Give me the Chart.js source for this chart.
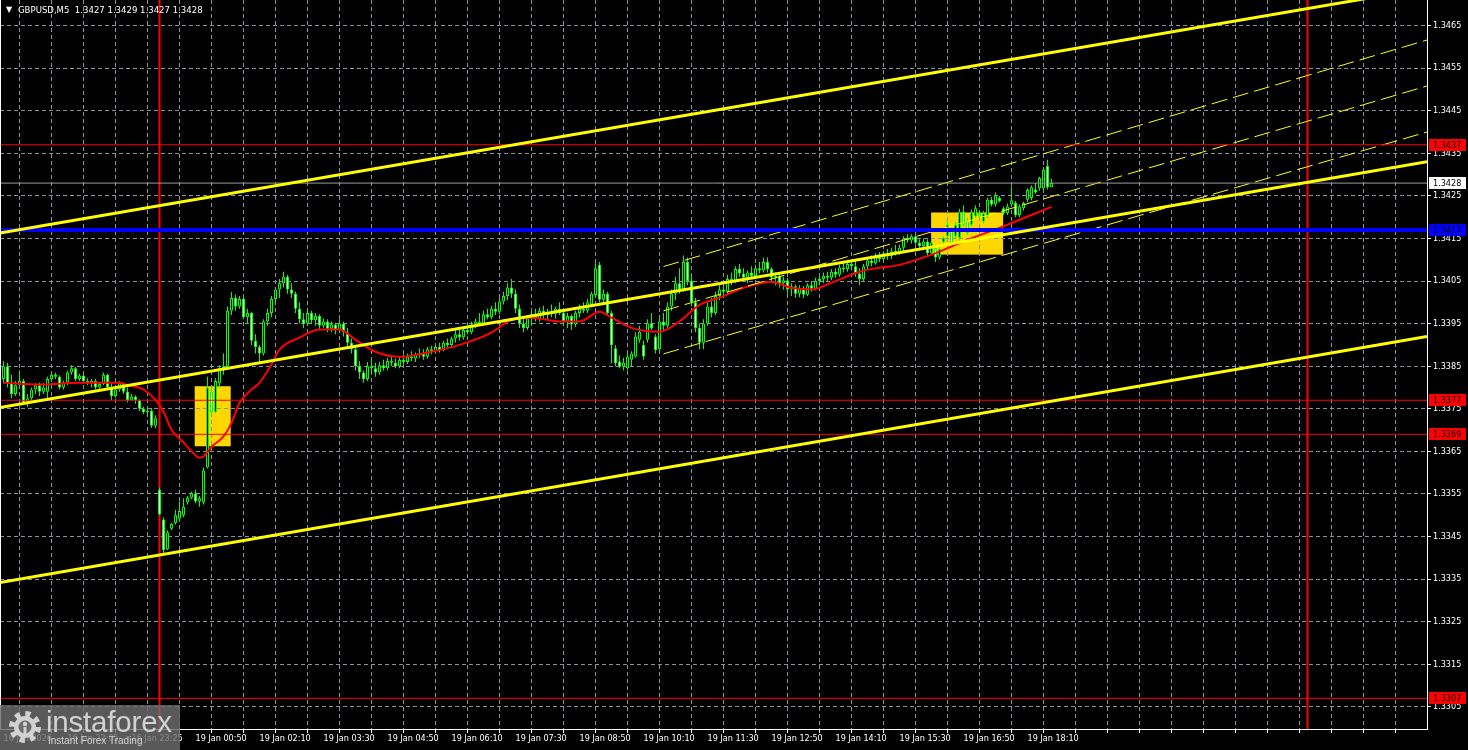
<!DOCTYPE html>
<html><head><meta charset="utf-8">
<script src="https://cdn.jsdelivr.net/npm/chart.js"></script>
<style>
html,body{margin:0;padding:0;background:#000;overflow:hidden}
#wrap{position:relative;width:1468px;height:750px;background:#000}
canvas{display:block}
#tri{position:absolute;left:6px;top:4px;color:#fff;font:8px "DejaVu Sans",sans-serif;line-height:12px}
#title{position:absolute;left:18px;top:4px;color:#fff;font:9.5px "DejaVu Sans Condensed","Liberation Sans",Arial,sans-serif;line-height:12px;white-space:pre}
#logo{position:absolute;left:0;top:705px;width:180px;height:45px;background:rgba(108,108,108,0.82);overflow:hidden}
#logo svg{position:absolute;left:7px;top:4px}
#logo .big{position:absolute;left:46px;top:2px;font:29.5px/29px "Liberation Sans",Arial,sans-serif;color:#d2d2d2;letter-spacing:-0.2px}
#logo .small{position:absolute;left:48px;top:31px;font:10px/10px "Liberation Sans",Arial,sans-serif;color:#d2d2d2}
</style></head><body>
<div id="wrap">
<canvas id="c" width="1468" height="750"></canvas>
<div id="tri">▼</div>
<div id="title">GBPUSD,M5  1.3427 1.3429 1.3427 1.3428</div>
<div id="logo">
<svg width="36" height="36" viewBox="0 0 36 36"><circle cx="18" cy="18" r="13" fill="none" stroke="#d2d2d2" stroke-width="6" stroke-dasharray="5 5.2"/><circle cx="18" cy="18" r="11" fill="#d2d2d2"/><circle cx="18" cy="18" r="6.5" fill="#6c6c6c"/><circle cx="18" cy="15" r="2.2" fill="#d2d2d2"/><rect x="16.5" y="18" width="3" height="10" fill="#d2d2d2"/></svg>
<div class="big">instaforex</div>
<div class="small">Instant Forex Trading</div>
</div>
</div>
<script>
// ---- candle data (GBPUSD M5), bar 0 = 16 Jan 20:45, bar 39 = 19 Jan 00:00 ----
const opens = [
1.33820,1.33850,1.33810,1.33785,1.33805,1.33815,1.33765,1.33775,1.33795,1.33805,
1.33790,1.33790,1.33820,1.33830,1.33825,1.33800,1.33812,1.33835,1.33845,1.33820,
1.33828,1.33815,1.33810,1.33815,1.33800,1.33808,1.33830,1.33800,1.33780,1.33795,
1.33810,1.33790,1.33770,1.33778,1.33770,1.33750,1.33742,1.33745,1.33710,1.33560,
1.33490,1.33420,1.33468,1.33482,1.33492,1.33500,1.33530,1.33541,1.33551,1.33532,
1.33530,1.33612,1.33790,1.33742,1.33810,1.33845,1.33850,1.33980,1.34010,1.33990,
1.34008,1.33965,1.33975,1.33910,1.33895,1.33880,1.33955,1.33975,1.34008,1.34030,
1.34045,1.34060,1.34030,1.34020,1.33985,1.33960,1.33950,1.33975,1.33958,1.33968,
1.33945,1.33955,1.33938,1.33948,1.33935,1.33950,1.33930,1.33905,1.33890,1.33850,
1.33835,1.33820,1.33850,1.33845,1.33835,1.33852,1.33845,1.33862,1.33858,1.33850,
1.33865,1.33860,1.33872,1.33868,1.33878,1.33880,1.33872,1.33890,1.33885,1.33895,
1.33888,1.33905,1.33900,1.33915,1.33925,1.33918,1.33935,1.33930,1.33948,1.33955,
1.33950,1.33972,1.33965,1.33985,1.33978,1.34002,1.34015,1.34035,1.34020,1.33985,
1.33950,1.33940,1.33962,1.33972,1.33960,1.33980,1.33970,1.33978,1.33972,1.33985,
1.33975,1.33955,1.33968,1.33948,1.33975,1.33985,1.33980,1.33995,1.34017,1.34088,
1.34006,1.34020,1.33975,1.33892,1.33861,1.33849,1.33845,1.33865,1.33873,1.33912,
1.33900,1.33912,1.33951,1.33920,1.33890,1.33955,1.33945,1.33990,1.34020,1.34045,
1.34030,1.34095,1.34050,1.34000,1.33940,1.33905,1.33950,1.33990,1.33975,1.34015,
1.34030,1.34025,1.34055,1.34048,1.34078,1.34068,1.34058,1.34070,1.34062,1.34080,
1.34075,1.34095,1.34078,1.34058,1.34062,1.34045,1.34052,1.34030,1.34038,1.34020,
1.34032,1.34018,1.34040,1.34032,1.34050,1.34055,1.34062,1.34058,1.34072,1.34065,
1.34082,1.34078,1.34090,1.34085,1.34068,1.34055,1.34085,1.34098,1.34092,1.34108,
1.34102,1.34115,1.34108,1.34120,1.34118,1.34128,1.34150,1.34145,1.34155,1.34140,
1.34132,1.34143,1.34115,1.34127,1.34105,1.34141,1.34155,1.34170,1.34155,1.34151,
1.34213,1.34190,1.34182,1.34202,1.34210,1.34190,1.34202,1.34241,1.34230,1.34245,
1.34221,1.34209,1.34230,1.34233,1.34205,1.34221,1.34241,1.34245,1.34265,1.34268,
1.34268,1.34320,1.34270];
const highs = [
1.33862,1.33858,1.33830,1.33815,1.33840,1.33820,1.33785,1.33800,1.33810,1.33812,
1.33810,1.33825,1.33835,1.33835,1.33828,1.33815,1.33840,1.33852,1.33848,1.33832,
1.33830,1.33822,1.33820,1.33820,1.33812,1.33835,1.33832,1.33810,1.33800,1.33815,
1.33812,1.33800,1.33785,1.33782,1.33772,1.33755,1.33750,1.33752,1.33735,1.33565,
1.33495,1.33465,1.33482,1.33513,1.33532,1.33540,1.33545,1.33555,1.33560,1.33545,
1.33612,1.33825,1.33800,1.33822,1.33852,1.33880,1.33990,1.34025,1.34018,1.34015,
1.34012,1.33985,1.33978,1.33925,1.33900,1.33960,1.33985,1.34015,1.34035,1.34055,
1.34072,1.34065,1.34045,1.34025,1.34000,1.33975,1.33985,1.33980,1.33975,1.33972,
1.33962,1.33960,1.33955,1.33952,1.33960,1.33955,1.33940,1.33915,1.33895,1.33862,
1.33840,1.33860,1.33870,1.33858,1.33860,1.33865,1.33870,1.33875,1.33868,1.33872,
1.33878,1.33880,1.33885,1.33882,1.33892,1.33890,1.33895,1.33898,1.33900,1.33905,
1.33910,1.33915,1.33920,1.33935,1.33935,1.33940,1.33950,1.33955,1.33962,1.33975,
1.33980,1.33985,1.33992,1.34000,1.34010,1.34025,1.34045,1.34055,1.34030,1.33995,
1.33965,1.33970,1.33980,1.33985,1.33988,1.33992,1.33985,1.33995,1.33990,1.34000,
1.33985,1.33975,1.33972,1.33980,1.33995,1.34000,1.34008,1.34025,1.34092,1.34095,
1.34030,1.34025,1.33980,1.33900,1.33875,1.33870,1.33885,1.33885,1.33930,1.33945,
1.33910,1.33960,1.33975,1.33925,1.33965,1.33975,1.34000,1.34030,1.34060,1.34080,
1.34110,1.34105,1.34060,1.34010,1.33950,1.33960,1.34000,1.34010,1.34025,1.34040,
1.34050,1.34065,1.34070,1.34085,1.34090,1.34080,1.34075,1.34085,1.34088,1.34095,
1.34105,1.34105,1.34082,1.34070,1.34068,1.34060,1.34058,1.34045,1.34042,1.34040,
1.34038,1.34045,1.34050,1.34058,1.34062,1.34070,1.34072,1.34078,1.34080,1.34088,
1.34092,1.34098,1.34100,1.34098,1.34080,1.34090,1.34105,1.34110,1.34115,1.34118,
1.34120,1.34125,1.34128,1.34135,1.34135,1.34155,1.34160,1.34160,1.34158,1.34148,
1.34150,1.34148,1.34145,1.34130,1.34130,1.34155,1.34190,1.34175,1.34190,1.34220,
1.34228,1.34198,1.34218,1.34228,1.34215,1.34215,1.34245,1.34248,1.34258,1.34250,
1.34225,1.34232,1.34272,1.34238,1.34230,1.34236,1.34268,1.34275,1.34280,1.34295,
1.34318,1.34335,1.34290];
const lows = [
1.33810,1.33800,1.33775,1.33780,1.33800,1.33760,1.33755,1.33770,1.33785,1.33780,
1.33785,1.33775,1.33815,1.33820,1.33795,1.33795,1.33805,1.33830,1.33815,1.33815,
1.33810,1.33805,1.33800,1.33795,1.33795,1.33805,1.33795,1.33770,1.33775,1.33790,
1.33785,1.33765,1.33768,1.33762,1.33745,1.33738,1.33735,1.33705,1.33705,1.33500,
1.33410,1.33418,1.33465,1.33478,1.33488,1.33495,1.33525,1.33538,1.33528,1.33520,
1.33525,1.33610,1.33735,1.33740,1.33800,1.33830,1.33845,1.33970,1.33980,1.33985,
1.33960,1.33950,1.33900,1.33880,1.33860,1.33875,1.33945,1.33965,1.33995,1.34010,
1.34035,1.34020,1.34010,1.33975,1.33950,1.33940,1.33945,1.33950,1.33945,1.33935,
1.33940,1.33930,1.33930,1.33925,1.33930,1.33920,1.33895,1.33880,1.33840,1.33820,
1.33811,1.33815,1.33835,1.33825,1.33830,1.33840,1.33840,1.33850,1.33845,1.33845,
1.33855,1.33855,1.33862,1.33860,1.33870,1.33865,1.33868,1.33878,1.33880,1.33882,
1.33885,1.33895,1.33895,1.33905,1.33910,1.33912,1.33925,1.33925,1.33940,1.33945,
1.33945,1.33960,1.33960,1.33970,1.33972,1.33995,1.34005,1.34010,1.33975,1.33940,
1.33930,1.33935,1.33950,1.33955,1.33955,1.33962,1.33960,1.33965,1.33962,1.33970,
1.33945,1.33940,1.33935,1.33942,1.33965,1.33975,1.33975,1.33990,1.34010,1.34000,
1.34000,1.33970,1.33857,1.33850,1.33845,1.33840,1.33840,1.33850,1.33870,1.33905,
1.33865,1.33905,1.33935,1.33880,1.33885,1.33935,1.33940,1.33980,1.34005,1.34020,
1.34025,1.34040,1.33990,1.33930,1.33890,1.33890,1.33945,1.33965,1.33970,1.34005,
1.34015,1.34020,1.34040,1.34045,1.34060,1.34050,1.34045,1.34055,1.34058,1.34068,
1.34070,1.34070,1.34050,1.34040,1.34035,1.34030,1.34020,1.34015,1.34010,1.34012,
1.34010,1.34015,1.34025,1.34028,1.34040,1.34045,1.34048,1.34052,1.34058,1.34060,
1.34070,1.34072,1.34075,1.34060,1.34040,1.34050,1.34078,1.34085,1.34088,1.34095,
1.34098,1.34100,1.34102,1.34110,1.34112,1.34120,1.34140,1.34138,1.34135,1.34128,
1.34125,1.34108,1.34110,1.34095,1.34100,1.34135,1.34150,1.34135,1.34150,1.34145,
1.34178,1.34158,1.34178,1.34198,1.34195,1.34185,1.34198,1.34225,1.34225,1.34235,
1.34205,1.34205,1.34225,1.34200,1.34200,1.34215,1.34235,1.34240,1.34255,1.34262,
1.34262,1.34265,1.34270];
const closes = [
1.33850,1.33810,1.33785,1.33805,1.33815,1.33765,1.33775,1.33795,1.33805,1.33790,
1.33800,1.33820,1.33830,1.33825,1.33800,1.33812,1.33835,1.33845,1.33820,1.33828,
1.33815,1.33810,1.33815,1.33800,1.33808,1.33830,1.33800,1.33780,1.33795,1.33810,
1.33790,1.33770,1.33778,1.33770,1.33750,1.33742,1.33745,1.33710,1.33728,1.33502,
1.33418,1.33460,1.33480,1.33500,1.33510,1.33520,1.33541,1.33551,1.33532,1.33540,
1.33605,1.33800,1.33742,1.33815,1.33845,1.33850,1.33980,1.34010,1.33990,1.34008,
1.33965,1.33975,1.33910,1.33895,1.33880,1.33955,1.33975,1.34008,1.34030,1.34045,
1.34060,1.34030,1.34020,1.33985,1.33960,1.33950,1.33975,1.33958,1.33968,1.33945,
1.33955,1.33938,1.33948,1.33935,1.33950,1.33930,1.33905,1.33890,1.33850,1.33835,
1.33820,1.33850,1.33845,1.33835,1.33852,1.33845,1.33862,1.33858,1.33850,1.33865,
1.33860,1.33872,1.33868,1.33878,1.33880,1.33872,1.33890,1.33885,1.33895,1.33888,
1.33905,1.33900,1.33915,1.33925,1.33918,1.33935,1.33930,1.33948,1.33955,1.33950,
1.33972,1.33965,1.33985,1.33978,1.34002,1.34015,1.34035,1.34020,1.33985,1.33950,
1.33940,1.33962,1.33972,1.33960,1.33980,1.33970,1.33978,1.33972,1.33985,1.33975,
1.33955,1.33968,1.33948,1.33975,1.33985,1.33980,1.34000,1.34020,1.34080,1.34006,
1.34020,1.33975,1.33900,1.33857,1.33849,1.33858,1.33873,1.33880,1.33920,1.33931,
1.33873,1.33951,1.33940,1.33888,1.33955,1.33945,1.33990,1.34020,1.34045,1.34030,
1.34095,1.34050,1.34000,1.33940,1.33905,1.33950,1.33990,1.33975,1.34015,1.34030,
1.34025,1.34055,1.34048,1.34078,1.34068,1.34058,1.34070,1.34062,1.34080,1.34075,
1.34095,1.34078,1.34058,1.34062,1.34045,1.34052,1.34030,1.34038,1.34020,1.34032,
1.34018,1.34040,1.34032,1.34050,1.34055,1.34062,1.34058,1.34072,1.34065,1.34082,
1.34078,1.34090,1.34085,1.34068,1.34055,1.34085,1.34098,1.34092,1.34108,1.34102,
1.34115,1.34108,1.34120,1.34118,1.34128,1.34150,1.34145,1.34155,1.34140,1.34132,
1.34143,1.34115,1.34140,1.34105,1.34125,1.34151,1.34182,1.34139,1.34182,1.34213,
1.34182,1.34163,1.34213,1.34221,1.34202,1.34209,1.34241,1.34230,1.34252,1.34238,
1.34209,1.34225,1.34240,1.34205,1.34225,1.34233,1.34264,1.34270,1.34258,1.34292,
1.34311,1.34270,1.34280];

// moving average (red), read at selected bars
const maBars = [0,9,19,29,31,35,38,40,42,45,47,49,50,52,55,57,59,62,64,67,69,74,79,84,88,93,99,107,114,122,127,132,139,144,149,152,157,164,169,174,179,185,192,197,202,207,214,219,224,232,241,249,257,262];
const maValues = [1.33811,1.33807,1.33811,1.33811,1.33806,1.33795,1.33771,1.33743,1.33701,1.33671,1.33650,1.33635,1.33638,1.33661,1.33685,1.33717,1.33764,1.33795,1.33811,1.33854,1.33889,1.33917,1.33936,1.33936,1.33912,1.33884,1.33872,1.33884,1.33900,1.33929,1.33959,1.33964,1.33955,1.33955,1.33978,1.33964,1.33940,1.33931,1.33955,1.33994,1.34011,1.34034,1.34048,1.34034,1.34030,1.34046,1.34072,1.34081,1.34088,1.34112,1.34147,1.34175,1.34205,1.34224];

// axis
const timeLabels = ["16 Jan 2026","16 Jan 22:05","16 Jan 23:25","19 Jan 00:50","19 Jan 02:10","19 Jan 03:30","19 Jan 04:50","19 Jan 06:10","19 Jan 07:30","19 Jan 08:50","19 Jan 10:10","19 Jan 11:30","19 Jan 12:50","19 Jan 14:10","19 Jan 15:30","19 Jan 16:50","19 Jan 18:10"];
const priceTicks = [1.3305,1.3315,1.3325,1.3335,1.3345,1.3355,1.3365,1.3375,1.3385,1.3395,1.3405,1.3415,1.3425,1.3435,1.3445,1.3455,1.3465];
const barRange = [-0.875, 355.875];
const priceRange = [1.32998, 1.34710];

// objects
const redLevels = [1.3437, 1.3377, 1.3369, 1.3307];
const blueLevel = 1.3417;
const bidLevel = 1.3428;
const dayLines = [39, 326];
const channelUpper = [1.34163, 1.34738];
const channelMiddle = [1.33753, 1.34330];
const channelLower = [1.33342, 1.33920];
const regStart = 165;
const regTop = [1.34084, 1.34616];
const regMid = [1.33980, 1.34508];
const regBot = [1.33879, 1.34400];
const zones = [{x1:47.8, x2:56.8, p1:1.33803, p2:1.33662},{x1:231.9, x2:249.9, p1:1.34211, p2:1.34112}];
const priceTags = [
  {v:1.3437, bg:'#ff0000', fg:'#000000'},
  {v:1.3428, bg:'#ffffff', fg:'#000000'},
  {v:1.3417, bg:'#0000ff', fg:'#000000'},
  {v:1.3377, bg:'#ff0000', fg:'#000000'},
  {v:1.3369, bg:'#ff0000', fg:'#000000'},
  {v:1.3307, bg:'#ff0000', fg:'#000000'}];

const FAMILY = '"DejaVu Sans Condensed", "Liberation Sans", Arial, sans-serif';
const FONT = {family:FAMILY, size:9};
const GRID = '#8b929c';

function seg(x1,y1,x2,y2){return [{x:x1,y:y1},{x:x2,y:y2}];}
function lineDs(data,color,width,dash,order,extra){
  return Object.assign({type:'line',data,borderColor:color,borderWidth:width,borderDash:dash||[],
    pointRadius:0,fill:false,tension:0,order,clip:0},extra||{});
}

const datasets = [];
dayLines.forEach(b=>datasets.push(lineDs(seg(b,priceRange[0],b,priceRange[1]),'#ff0000',2,[],30)));
datasets.push({type:'bar', data: closes.map((c,i)=>({x:i,y:[lows[i],highs[i]]})),
  backgroundColor:'#00ff00', borderWidth:0, barThickness:1, grouped:false, inflateAmount:0, minBarLength:1, order:20});
datasets.push({type:'bar', data: closes.map((c,i)=>({x:i,y:[opens[i],c]})),
  backgroundColor: closes.map((c,i)=> c>=opens[i] ? '#000000' : '#ffffff'),
  borderColor:'#00ff00', borderWidth:1, borderSkipped:false, barThickness:3, grouped:false, inflateAmount:0, minBarLength:1, order:19});
datasets.push(lineDs(maBars.map((b,k)=>({x:b,y:maValues[k]})),'#ff0000',2,[],18,{cubicInterpolationMode:'monotone'}));
datasets.push(lineDs(seg(regStart,regTop[0],barRange[1],regTop[1]),'#ffff00',1,[16,6],17));
datasets.push(lineDs(seg(regStart,regMid[0],barRange[1],regMid[1]),'#ffff00',1,[16,6],17));
datasets.push(lineDs(seg(regStart,regBot[0],barRange[1],regBot[1]),'#ffff00',1,[16,6],17));
datasets.push(lineDs(seg(barRange[0],bidLevel,barRange[1],bidLevel),'#9c9c9c',1,[],16));
redLevels.forEach(v=>datasets.push(lineDs(seg(barRange[0],v,barRange[1],v),'#ff0000',1,[],15)));
datasets.push(lineDs(seg(barRange[0],blueLevel,barRange[1],blueLevel),'#0000ff',4,[],14));
datasets.push(lineDs(seg(barRange[0],channelUpper[0],barRange[1],channelUpper[1]),'#ffff00',3,[],13));
datasets.push(lineDs(seg(barRange[0],channelMiddle[0],barRange[1],channelMiddle[1]),'#ffff00',3,[],13));
datasets.push(lineDs(seg(barRange[0],channelLower[0],barRange[1],channelLower[1]),'#ffff00',3,[],13));

const zonePlugin = {
  id:'zones',
  beforeDraw(chart){
    const {ctx, scales:{x,y}} = chart;
    ctx.save();
    ctx.fillStyle = '#ffd700';
    zones.forEach(z=>{
      const X1 = x.getPixelForValue(z.x1), X2 = x.getPixelForValue(z.x2);
      const Y1 = y.getPixelForValue(z.p1), Y2 = y.getPixelForValue(z.p2);
      ctx.fillRect(X1, Y1, X2-X1, Y2-Y1);
    });
    ctx.restore();
  },
  afterDraw(chart){
    const {ctx, chartArea, scales:{y}} = chart;
    ctx.save();
    ctx.strokeStyle = '#ffffff'; ctx.lineWidth = 1;
    ctx.beginPath(); ctx.moveTo(chartArea.left+0.5, chartArea.top); ctx.lineTo(chartArea.left+0.5, chartArea.bottom); ctx.stroke();
    ctx.font = '9px ' + FAMILY;
    ctx.textBaseline = 'middle'; ctx.textAlign = 'left';
    priceTags.forEach(t=>{
      const py = Math.round(y.getPixelForValue(t.v));
      ctx.fillStyle = t.bg;
      ctx.fillRect(chartArea.right+2, py-6, 37, 12);
      ctx.fillStyle = t.fg;
      ctx.fillText(t.v.toFixed(4), chartArea.right+6, py+0.5);
    });
    ctx.restore();
  }
};

new Chart(document.getElementById('c'), {
  type:'bar',
  data:{datasets},
  plugins:[zonePlugin],
  options:{
    responsive:false, animation:false, devicePixelRatio:1, events:[],
    layout:{padding:0},
    plugins:{legend:{display:false}, tooltip:{enabled:false}, title:{display:false}},
    scales:{
      x:{type:'linear', position:'bottom', min:barRange[0], max:barRange[1], offset:false,
        afterBuildTicks(s){ const t=[]; for(let v=0; v<=barRange[1]; v+=8) t.push({value:v}); s.ticks=t; },
        afterFit(s){ s.height=21; s.paddingLeft=0; s.paddingRight=0; s.paddingTop=0; s.paddingBottom=0; },
        ticks:{autoSkip:false, maxRotation:0, minRotation:0, align:'start', color:'#ffffff', font:FONT, padding:0,
          callback(v){ const k=v/16; return (Number.isInteger(k) && k<timeLabels.length) ? timeLabels[k] : ''; }},
        grid:{color:GRID, lineWidth:1, drawTicks:true, tickLength:4, tickColor:'#ffffff', tickWidth:1, tickBorderDash:[]},
        border:{display:true, color:'#ffffff', width:1, dash:[4,3]}
      },
      y:{type:'linear', position:'right', min:priceRange[0], max:priceRange[1],
        afterBuildTicks(s){ s.ticks = priceTicks.map(v=>({value:v})); },
        afterFit(s){ s.width=41; s.paddingLeft=0; s.paddingRight=0; s.paddingTop=0; s.paddingBottom=0; },
        ticks:{color:'#ffffff', font:FONT, padding:2, callback(v){ return v.toFixed(4); }},
        grid:{color:GRID, lineWidth:1, drawTicks:true, tickLength:4, tickColor:'#ffffff', tickWidth:1, tickBorderDash:[]},
        border:{display:true, color:'#ffffff', width:1, dash:[4,3]}
      }
    }
  }
});
</script>
</body></html>
